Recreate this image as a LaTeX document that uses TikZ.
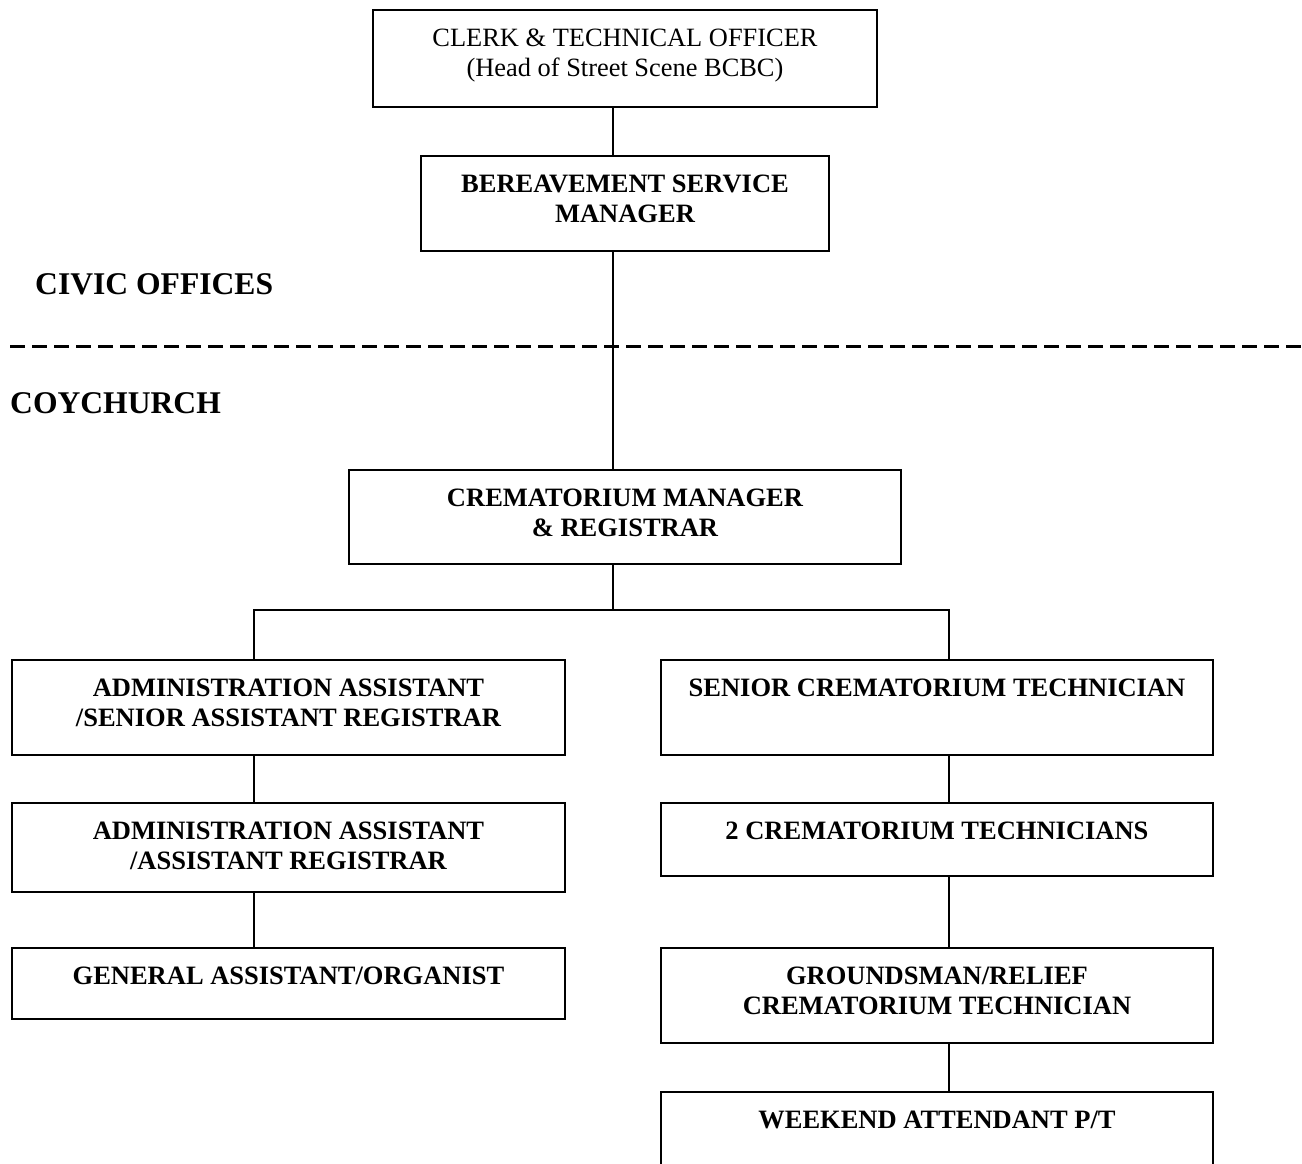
\documentclass[tikz,border=0pt]{standalone}
\usepackage{fontspec}
\setmainfont{Liberation Serif}
\tikzset{
  orgframe/.style={draw=black, line width=1.6pt, inner sep=0pt, outer sep=0pt, rectangle},
  orgtext/.style={font=\fontsize{26.5}{30}\selectfont\bfseries},
  plaintext/.style={font=\fontsize{26.4}{30}\selectfont},
  conn/.style={draw=black, line width=1.4pt},
  divider/.style={draw=black, line width=3pt, dash pattern=on 15pt off 7pt},
  sitelabel/.style={font=\fontsize{31.6}{36}\selectfont\bfseries, inner sep=0pt, anchor=base west}
}
% name, left, top, right, bottom, style, text
\newcommand\orgbox[7]{%
  \node[orgframe, #6, minimum width=#4pt-#2pt, minimum height=#5pt-#3pt]
    (#1) at ({(#2+#4)/2},{(#3+#5)/2})
    {\parbox[c][\dimexpr#5pt-#3pt\relax][t]{\dimexpr#4pt-#2pt\relax}{\centering\rule{0pt}{36pt}#7}};}
\begin{document}
\begin{tikzpicture}[x=1pt,y=-1pt]
\useasboundingbox (0,0) rectangle (1302,1163);
\clip (0,0) rectangle (1302,1163);
\fill[white] (0,0) rectangle (1302,1163);

\orgbox{A}{373}{10}{877}{107}{plaintext}{CLERK \& TECHNICAL OFFICER\\(Head of Street Scene BCBC)}
\orgbox{B}{421}{156}{829}{251}{orgtext}{BEREAVEMENT SERVICE\\MANAGER}
\orgbox{C}{349}{470}{901}{564}{orgtext}{CREMATORIUM MANAGER\\\& REGISTRAR}
\orgbox{D}{12}{660}{565}{755}{orgtext}{ADMINISTRATION ASSISTANT\\/SENIOR ASSISTANT REGISTRAR}
\orgbox{E}{661}{660}{1213}{755}{orgtext}{SENIOR CREMATORIUM TECHNICIAN}
\orgbox{F}{12}{803}{565}{892}{orgtext}{ADMINISTRATION ASSISTANT\\/ASSISTANT REGISTRAR}
\orgbox{G}{661}{803}{1213}{876}{orgtext}{2 CREMATORIUM TECHNICIANS}
\orgbox{H}{12}{948}{565}{1019}{orgtext}{GENERAL ASSISTANT/ORGANIST}
\orgbox{I}{661}{948}{1213}{1043}{orgtext}{GROUNDSMAN/RELIEF\\CREMATORIUM TECHNICIAN}
\orgbox{J}{661}{1092}{1213}{1185}{orgtext}{WEEKEND ATTENDANT P/T}

\node[sitelabel] (civic) at (35,294) {CIVIC OFFICES};
\node[sitelabel] (coy) at (10,413) {COYCHURCH};

\coordinate (dl) at (10,346);
\coordinate (dr) at (1302,346);
\draw[divider] (dl) -- (dr);

\coordinate (spine) at (613,0);
\coordinate (lx) at (254,0);
\coordinate (rx) at (949,0);
\coordinate (branch) at (0,610);

\draw[conn] (A.south -| spine) -- (B.north -| spine);
\draw[conn] (B.south -| spine) -- (C.north -| spine);
\draw[conn] (C.south -| spine) -- (spine |- branch);
\draw[conn] (D.north -| lx) -- (lx |- branch) -- (rx |- branch) -- (E.north -| rx);
\draw[conn] (D.south -| lx) -- (F.north -| lx);
\draw[conn] (F.south -| lx) -- (H.north -| lx);
\draw[conn] (E.south -| rx) -- (G.north -| rx);
\draw[conn] (G.south -| rx) -- (I.north -| rx);
\draw[conn] (I.south -| rx) -- (J.north -| rx);
\end{tikzpicture}
\end{document}
